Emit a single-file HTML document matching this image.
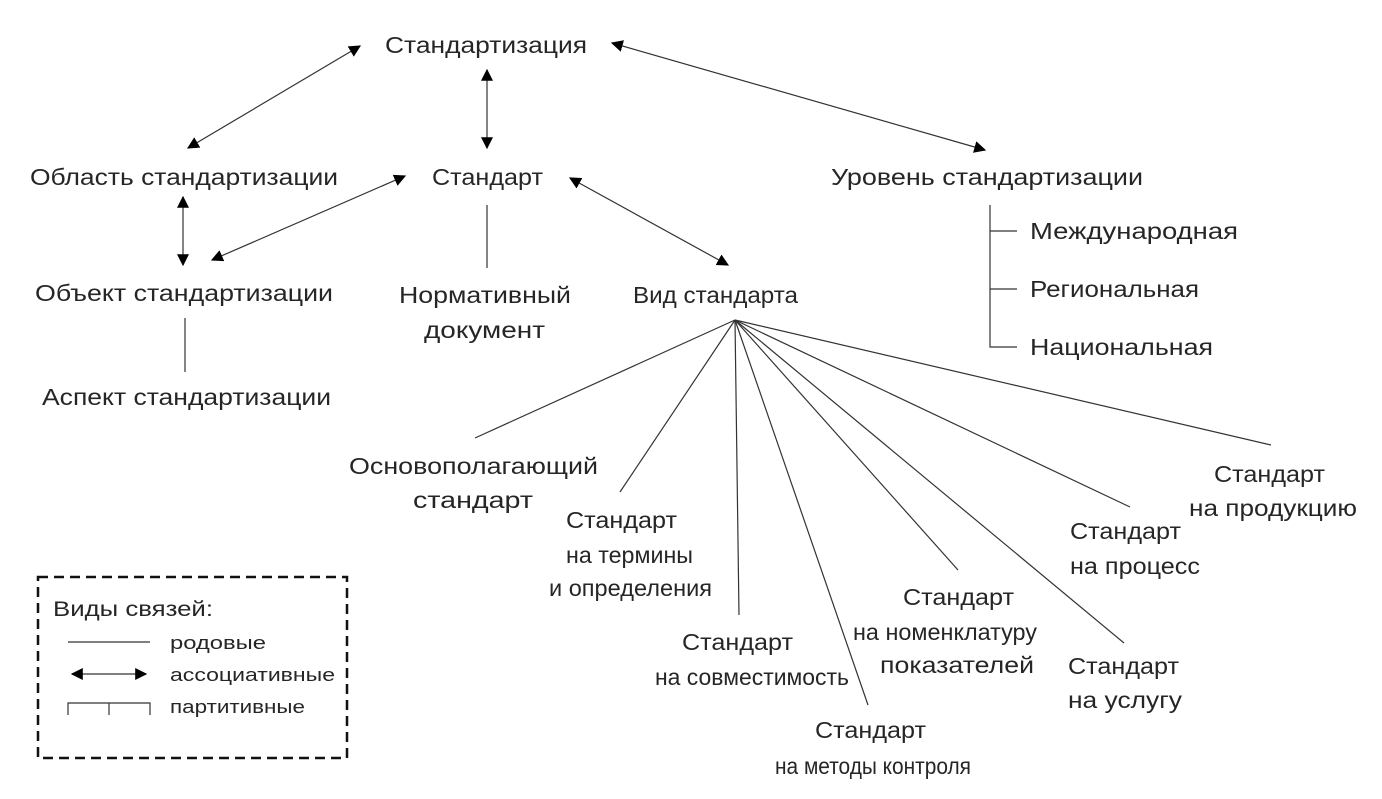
<!DOCTYPE html>
<html><head><meta charset="utf-8"><style>
html,body{margin:0;padding:0;background:#fff;}
svg{display:block;}
text{font-family:"Liberation Sans","DejaVu Sans",sans-serif;font-size:23px;fill:#262626;}
</style></head><body>
<svg width="1382" height="799" viewBox="0 0 1382 799" xmlns="http://www.w3.org/2000/svg">
<defs>
<marker id="a" viewBox="0 0 10 10" refX="9" refY="5" markerWidth="12" markerHeight="12" markerUnits="userSpaceOnUse" orient="auto-start-reverse"><path d="M0,0 L10,5 L0,10 z" fill="#000"/></marker>
</defs>
<g stroke="#333" stroke-width="1.2" fill="none">
<line x1="360" y1="46" x2="188" y2="148" marker-start="url(#a)" marker-end="url(#a)"/>
<line x1="487" y1="70" x2="487" y2="148" marker-start="url(#a)" marker-end="url(#a)"/>
<line x1="612" y1="43" x2="985" y2="150" marker-start="url(#a)" marker-end="url(#a)"/>
<line x1="183" y1="197" x2="183" y2="265" marker-start="url(#a)" marker-end="url(#a)"/>
<line x1="405" y1="176" x2="212" y2="260" marker-start="url(#a)" marker-end="url(#a)"/>
<line x1="570" y1="178" x2="728" y2="265" marker-start="url(#a)" marker-end="url(#a)"/>
<line x1="487" y1="205" x2="487" y2="268"/>
<line x1="185" y1="318" x2="185" y2="372"/>
<path d="M990,205 V347 H1017 M990,231 H1017 M990,289 H1017"/>
<line x1="735" y1="320" x2="475" y2="438"/>
<line x1="735" y1="320" x2="620" y2="492"/>
<line x1="735" y1="320" x2="739" y2="615"/>
<line x1="735" y1="320" x2="868" y2="705"/>
<line x1="735" y1="320" x2="958" y2="570"/>
<line x1="735" y1="320" x2="1124" y2="643"/>
<line x1="735" y1="320" x2="1130" y2="507"/>
<line x1="735" y1="320" x2="1271" y2="445"/>
<rect x="38" y="577" width="309" height="181" stroke="#111" stroke-width="2.5" stroke-dasharray="10,6"/>
<line x1="68" y1="642" x2="150" y2="642"/>
<line x1="72" y1="674" x2="146" y2="674" marker-start="url(#a)" marker-end="url(#a)"/>
<path d="M68,715 V703 H150 V715 M109,703 V715"/>
</g>
<g>
<text x="385" y="53" textLength="202" lengthAdjust="spacingAndGlyphs">Стандартизация</text>
<text x="30" y="185" textLength="308" lengthAdjust="spacingAndGlyphs">Область стандартизации</text>
<text x="432" y="185" textLength="111" lengthAdjust="spacingAndGlyphs">Стандарт</text>
<text x="831" y="185" textLength="312" lengthAdjust="spacingAndGlyphs">Уровень стандартизации</text>
<text x="35" y="301" textLength="298" lengthAdjust="spacingAndGlyphs">Объект стандартизации</text>
<text x="399" y="303" textLength="172" lengthAdjust="spacingAndGlyphs">Нормативный</text>
<text x="424" y="338" textLength="121" lengthAdjust="spacingAndGlyphs">документ</text>
<text x="633" y="303" textLength="165" lengthAdjust="spacingAndGlyphs">Вид стандарта</text>
<text x="1030" y="239" textLength="208" lengthAdjust="spacingAndGlyphs">Международная</text>
<text x="1030" y="297" textLength="169" lengthAdjust="spacingAndGlyphs">Региональная</text>
<text x="1030" y="355" textLength="183" lengthAdjust="spacingAndGlyphs">Национальная</text>
<text x="42" y="405" textLength="289" lengthAdjust="spacingAndGlyphs">Аспект стандартизации</text>
<text x="349" y="474" textLength="249" lengthAdjust="spacingAndGlyphs">Основополагающий</text>
<text x="413" y="508" textLength="120" lengthAdjust="spacingAndGlyphs">стандарт</text>
<text x="566" y="528" textLength="111" lengthAdjust="spacingAndGlyphs">Стандарт</text>
<text x="566" y="563" textLength="127" lengthAdjust="spacingAndGlyphs">на термины</text>
<text x="549" y="596" textLength="163" lengthAdjust="spacingAndGlyphs">и определения</text>
<text x="682" y="650" textLength="111" lengthAdjust="spacingAndGlyphs">Стандарт</text>
<text x="655" y="685" textLength="194" lengthAdjust="spacingAndGlyphs">на совместимость</text>
<text x="903" y="605" textLength="111" lengthAdjust="spacingAndGlyphs">Стандарт</text>
<text x="853" y="640" textLength="184" lengthAdjust="spacingAndGlyphs">на номенклатуру</text>
<text x="880" y="673" textLength="154" lengthAdjust="spacingAndGlyphs">показателей</text>
<text x="815" y="738" textLength="111" lengthAdjust="spacingAndGlyphs">Стандарт</text>
<text x="775" y="774" textLength="196" lengthAdjust="spacingAndGlyphs">на методы контроля</text>
<text x="1070" y="539" textLength="111" lengthAdjust="spacingAndGlyphs">Стандарт</text>
<text x="1070" y="574" textLength="130" lengthAdjust="spacingAndGlyphs">на процесс</text>
<text x="1068" y="674" textLength="111" lengthAdjust="spacingAndGlyphs">Стандарт</text>
<text x="1068" y="708" textLength="114" lengthAdjust="spacingAndGlyphs">на услугу</text>
<text x="1214" y="482" textLength="111" lengthAdjust="spacingAndGlyphs">Стандарт</text>
<text x="1189" y="516" textLength="168" lengthAdjust="spacingAndGlyphs">на продукцию</text>
<text x="53" y="616" textLength="160" lengthAdjust="spacingAndGlyphs" style="font-size:21px">Виды связей:</text>
<text x="170" y="649" textLength="96" lengthAdjust="spacingAndGlyphs" style="font-size:18px">родовые</text>
<text x="170" y="681" textLength="165" lengthAdjust="spacingAndGlyphs" style="font-size:18px">ассоциативные</text>
<text x="170" y="713" textLength="135" lengthAdjust="spacingAndGlyphs" style="font-size:18px">партитивные</text>
</g>
</svg>
</body></html>
